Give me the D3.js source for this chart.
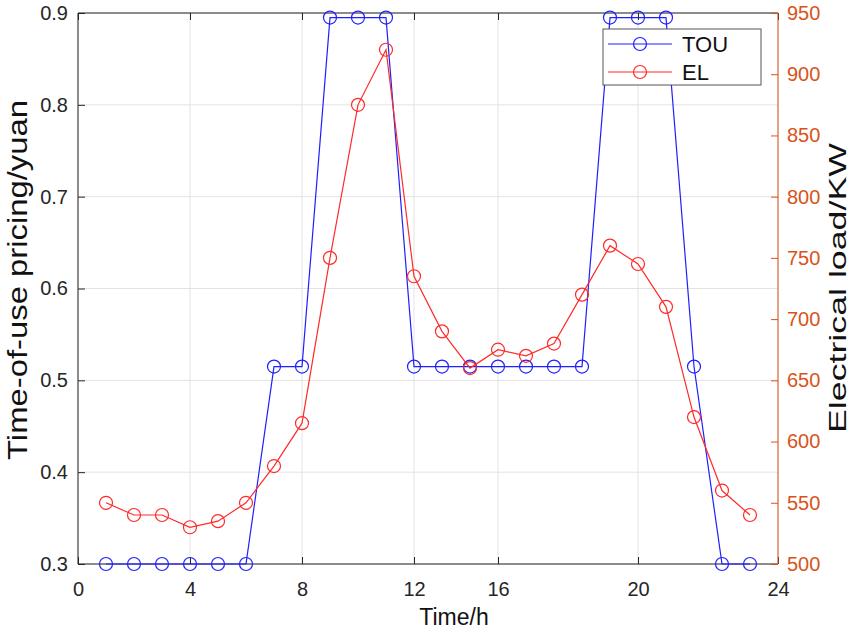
<!DOCTYPE html>
<html>
<head>
<meta charset="utf-8">
<script src="https://cdn.jsdelivr.net/npm/d3@7"></script>
<style>
  body { margin: 0; background: #fff; }
  text { font-family: "Liberation Sans", Arial, Helvetica, sans-serif; }
</style>
</head>
<body>
<div id="chart"></div>
<script>
// hours 1..24
const hours = d3.range(1, 25);
const tou = [0.3, 0.3, 0.3, 0.3, 0.3, 0.3, 0.515, 0.515, 0.895, 0.895, 0.895, 0.515,
             0.515, 0.515, 0.515, 0.515, 0.515, 0.515, 0.895, 0.895, 0.895, 0.515, 0.3, 0.3];
const load = [550, 540, 540, 530, 535, 550, 580, 615, 750, 875, 920, 735,
              690, 660, 675, 670, 680, 720, 760, 745, 710, 620, 560, 540];
// the original figure puts its x ticks at these spots with these labels
const xTickPos = [0, 4, 8, 12, 15, 20, 25];
const xTickLabels = ["0", "4", "8", "12", "16", "20", "24"];
const leftTicks = [0.3, 0.4, 0.5, 0.6, 0.7, 0.8, 0.9];
const rightTicks = [500, 550, 600, 650, 700, 750, 800, 850, 900, 950];

const width = 852, height = 632;
const m = { left: 78, right: 778, top: 13, bottom: 564 };
const axisCol = "#262626", rightCol = "#D95319";
const blue = "#1f1fff", red = "#ff2a2a";

const svg = d3.select("#chart").append("svg")
  .attr("width", width).attr("height", height);

const x = d3.scaleLinear().domain([0, 25]).range([m.left, m.right]);
const yL = d3.scaleLinear().domain([0.3, 0.9]).range([m.bottom, m.top]);
const yR = d3.scaleLinear().domain([500, 950]).range([m.bottom, m.top]);

// grid
svg.append("g").selectAll("line").data(xTickPos).join("line")
  .attr("x1", d => x(d)).attr("x2", d => x(d))
  .attr("y1", m.top).attr("y2", m.bottom)
  .attr("stroke", "#e3e3e3");
svg.append("g").selectAll("line").data(leftTicks).join("line")
  .attr("x1", m.left).attr("x2", m.right)
  .attr("y1", d => yL(d)).attr("y2", d => yL(d))
  .attr("stroke", "#e3e3e3");

// top border with ticks
const topAx = svg.append("g").attr("transform", `translate(0,${m.top})`)
  .call(d3.axisTop(x).tickValues(xTickPos).tickSize(-7).tickFormat(""));
topAx.select(".domain").attr("stroke", axisCol).attr("d", `M${m.left},0H${m.right}`);
topAx.selectAll(".tick line").attr("stroke", axisCol);

// bottom axis
const bottomAx = svg.append("g").attr("transform", `translate(0,${m.bottom})`)
  .call(d3.axisBottom(x).tickValues(xTickPos).tickSize(-7).tickPadding(18)
    .tickFormat((d, i) => xTickLabels[i]));
bottomAx.select(".domain").attr("stroke", axisCol).attr("d", `M${m.left},0H${m.right}`);
bottomAx.selectAll(".tick line").attr("stroke", axisCol);
bottomAx.selectAll("text").attr("fill", axisCol).style("font-size", "20px")
  .style("font-family", "Liberation Sans, Arial, sans-serif");

// left axis
const leftAx = svg.append("g").attr("transform", `translate(${m.left},0)`)
  .call(d3.axisLeft(yL).tickValues(leftTicks).tickSize(-7).tickPadding(10)
    .tickFormat(d3.format(".1f")));
leftAx.select(".domain").attr("stroke", axisCol).attr("d", `M0,${m.top}V${m.bottom}`);
leftAx.selectAll(".tick line").attr("stroke", axisCol);
leftAx.selectAll("text").attr("fill", axisCol).style("font-size", "20px")
  .style("font-family", "Liberation Sans, Arial, sans-serif");

// right axis
const rightAx = svg.append("g").attr("transform", `translate(${m.right},0)`)
  .call(d3.axisRight(yR).tickValues(rightTicks).tickSize(-7).tickPadding(9));
rightAx.select(".domain").attr("stroke", rightCol).attr("d", `M0,${m.top}V${m.bottom}`);
rightAx.selectAll(".tick line").attr("stroke", rightCol);
rightAx.selectAll("text").attr("fill", rightCol).style("font-size", "20px")
  .style("font-family", "Liberation Sans, Arial, sans-serif");

// axis labels
svg.append("text").attr("x", 454).attr("y", 625).attr("text-anchor", "middle")
  .style("font-size", "23px").attr("fill", "#111").text("Time/h");
svg.append("text").attr("transform", "translate(27,280) rotate(-90)")
  .attr("text-anchor", "middle").style("font-size", "27px").attr("fill", "#111")
  .attr("textLength", 360).attr("lengthAdjust", "spacingAndGlyphs")
  .text("Time-of-use pricing/yuan");
svg.append("text").attr("transform", "translate(846,288) rotate(-90)")
  .attr("text-anchor", "middle").style("font-size", "24px").attr("fill", "#111")
  .attr("textLength", 290).attr("lengthAdjust", "spacingAndGlyphs")
  .text("Electrical load/KW");

// series
const series = [
  { name: "TOU", vals: tou, y: yL, color: blue },
  { name: "EL", vals: load, y: yR, color: red }
];
series.forEach(s => {
  const pts = hours.map((h, i) => [h, s.vals[i]]);
  svg.append("path").datum(pts)
    .attr("fill", "none").attr("stroke", s.color).attr("stroke-width", 1.2)
    .attr("d", d3.line().x(d => x(d[0])).y(d => s.y(d[1])));
  svg.append("g").selectAll("circle").data(pts).join("circle")
    .attr("cx", d => x(d[0])).attr("cy", d => s.y(d[1])).attr("r", 6.5)
    .attr("fill", "none").attr("stroke", s.color).attr("stroke-width", 1.2);
});

// legend
const lg = svg.append("g");
lg.append("rect").attr("x", 603).attr("y", 29).attr("width", 158).attr("height", 56)
  .attr("fill", "#fff").attr("stroke", "#555").attr("stroke-width", 1);
series.forEach((s, i) => {
  const ly = 44 + i * 28;
  lg.append("line").attr("x1", 608).attr("x2", 672).attr("y1", ly).attr("y2", ly)
    .attr("stroke", s.color).attr("stroke-width", 1.2);
  lg.append("circle").attr("cx", 640).attr("cy", ly).attr("r", 6.5)
    .attr("fill", "none").attr("stroke", s.color).attr("stroke-width", 1.2);
  lg.append("text").attr("x", 682).attr("y", ly).attr("dy", "0.36em")
    .style("font-size", "22px").attr("fill", "#111").text(s.name);
});
</script>
</body>
</html>
